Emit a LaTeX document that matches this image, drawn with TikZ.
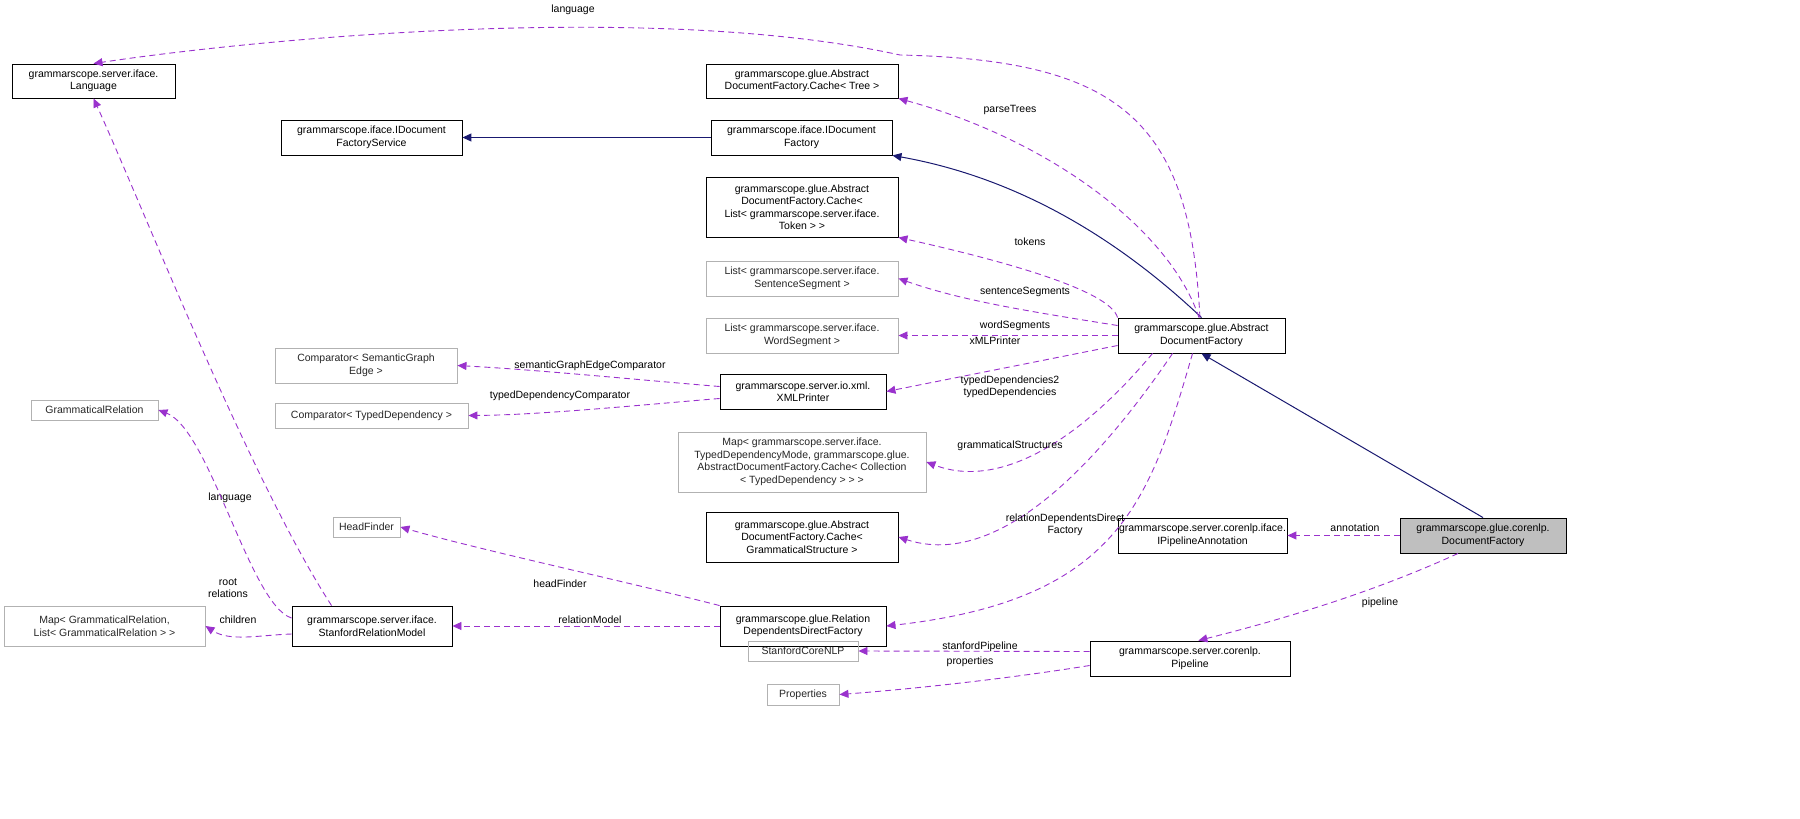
\documentclass[tikz,border=0pt]{standalone}
\usepackage{fontspec}
\setmainfont{Liberation Sans}
\usetikzlibrary{arrows.meta}
\definecolor{dpurple}{HTML}{9A32CD}
\definecolor{dnavy}{HTML}{191970}
\begin{document}
\begin{tikzpicture}[x=1pt,y=-1pt,
  font=\fontsize{10.5}{12.5}\selectfont,
  box/.style={draw=black,line width=0.9pt,align=center,inner sep=1pt},
  gbox/.style={draw=gray!60,line width=0.9pt,align=center,inner sep=1pt,text=black!85},
  use/.style={draw=dpurple,dashed,dash pattern=on 6pt off 4pt,line width=0.9pt,-{Triangle[width=8pt,length=9pt,fill=dpurple]}},
  inh/.style={draw=dnavy,line width=1pt,-{Triangle[width=8pt,length=9pt,fill=dnavy]}},
  lab/.style={align=center,inner sep=1pt}]
\useasboundingbox (0,0) rectangle (1800,819);
\def\bx#1#2#3#4#5#6#7{\node[#1,minimum width=#5pt,minimum height=#6pt] (#2) at (#3,#4) {#7};}
\bx{box}{lang}{93.5}{81}{163}{34}{grammarscope.server.iface.\\Language}
\bx{box}{ifs}{371.5}{137.5}{181}{35}{grammarscope.iface.IDocument\\FactoryService}
\bx{box}{idf}{801.5}{137.5}{181}{35}{grammarscope.iface.IDocument\\Factory}
\bx{box}{ctree}{802}{81}{192}{34}{grammarscope.glue.Abstract\\DocumentFactory.Cache< Tree >}
\bx{box}{ctok}{802}{207}{192}{60}{grammarscope.glue.Abstract\\DocumentFactory.Cache<\\ List< grammarscope.server.iface.\\Token > >}
\bx{gbox}{sseg}{802}{278.5}{192}{35}{List< grammarscope.server.iface.\\SentenceSegment >}
\bx{gbox}{wseg}{802}{335.5}{192}{35}{List< grammarscope.server.iface.\\WordSegment >}
\bx{box}{adf}{1201.5}{335.5}{167}{35}{grammarscope.glue.Abstract\\DocumentFactory}
\bx{gbox}{csge}{366}{365.5}{182}{35}{Comparator< SemanticGraph\\Edge >}
\bx{box}{xml}{803}{391.5}{166}{35}{grammarscope.server.io.xml.\\XMLPrinter}
\bx{gbox}{ctd}{371.5}{415.5}{193}{25}{Comparator< TypedDependency >}
\bx{gbox}{map}{802}{462}{248}{60}{Map< grammarscope.server.iface.\\TypedDependencyMode, grammarscope.glue.\\AbstractDocumentFactory.Cache< Collection\\< TypedDependency > > >}
\bx{box}{cgs}{802}{537}{192}{50}{grammarscope.glue.Abstract\\DocumentFactory.Cache<\\ GrammaticalStructure >}
\bx{box}{ipa}{1202.5}{535.5}{165}{35}{grammarscope.server.corenlp.iface.\\IPipelineAnnotation}
\node[box,fill=gray!50,minimum width=166pt,minimum height=35pt] (cdf) at (1483,535.5) {grammarscope.glue.corenlp.\\DocumentFactory};
\bx{gbox}{hf}{366.5}{527}{67}{20}{HeadFinder}
\bx{gbox}{gr}{94.5}{410}{127}{20}{GrammaticalRelation}
\bx{box}{srm}{372}{626}{160}{40}{grammarscope.server.iface.\\StanfordRelationModel}
\bx{gbox}{mapgr}{104.5}{626}{201}{40}{Map< GrammaticalRelation,\\ List< GrammaticalRelation > >}
\bx{box}{rddf}{803}{626}{166}{40}{grammarscope.glue.Relation\\DependentsDirectFactory}
\bx{gbox}{snlp}{803}{651}{110}{20}{StanfordCoreNLP}
\bx{box}{pipe}{1190}{658.5}{200}{35}{grammarscope.server.corenlp.\\Pipeline}
\bx{gbox}{props}{803}{694.5}{72}{21}{Properties}

% inheritance
\draw[inh] (idf.west) -- (ifs.east);
\draw[inh] (adf.north) .. controls (1130,250) and (1030,180) .. (idf.south east);
\draw[inh] (cdf.north) -- (adf.south);

% usage from ADF
\draw[use] (adf.95) .. controls (1190,120) and (1120,60) .. (900,55) .. controls (650,0) and (250,40) .. (lang.north);
\node[lab] (l1) at (573,10) {language};
\draw[use] (adf.98) .. controls (1170,230) and (1050,140) .. (ctree.south east);
\node[lab] (l2) at (1010,110) {parseTrees};
\draw[use] (adf.north west) .. controls (1110,290) and (1000,260) .. (ctok.south east);
\node[lab] (l3) at (1030,242) {tokens};
\draw[use] (adf.west) ++(0,-10) .. controls (1020,310) and (960,300) .. (sseg.east);
\node[lab] (l4) at (1025,292) {sentenceSegments};
\draw[use] (adf.west) -- (wseg.east);
\node[lab] (l5) at (1015,326) {wordSegments};
\draw[use] (adf.west) ++(0,10) -- (xml.east);
\node[lab] (l6) at (995,341) {xMLPrinter};
\draw[use] (adf.south west) ++(35,0) .. controls (1080,440) and (1000,490) .. (map.east);
\node[lab] (l7) at (1010,387) {typedDependencies2\\typedDependencies};
\draw[use] (adf.south west) ++(55,0) .. controls (1100,460) and (1000,570) .. (cgs.east);
\node[lab] (l8) at (1010,446) {grammaticalStructures};
\draw[use] (adf.south west) ++(75,0) .. controls (1150,500) and (1120,600) .. (rddf.east);
\node[lab] (l9) at (1065,525) {relationDependentsDirect\\Factory};

% XML printer
\draw[use] (xml.west) ++(0,-5) .. controls (640,380) and (540,370) .. (csge.east);
\node[lab] (l10) at (590,366) {semanticGraphEdgeComparator};
\draw[use] (xml.west) ++(0,7) .. controls (640,405) and (540,415) .. (ctd.east);
\node[lab] (l11) at (560,396) {typedDependencyComparator};

% RDDF
\draw[use] (rddf.north west) .. controls (620,580) and (480,550) .. (hf.east);
\node[lab] (l12) at (560,584) {headFinder};
\draw[use] (rddf.west) -- (srm.east);
\node[lab] (l13) at (590,620) {relationModel};

% SRM
\draw[use] (srm.north west) ++(40,0) .. controls (250,480) and (140,200) .. (lang.south);
\node[lab] (l14) at (230,498) {language};
\draw[use] (srm.west) ++(0,-8) .. controls (250,605) and (210,430) .. (gr.east);
\node[lab] (l15) at (228,588) {root\\relations};
\draw[use] (srm.west) ++(0,8) .. controls (260,635) and (230,642) .. (mapgr.east);
\node[lab] (l16) at (238,620) {children};

% corenlp DF
\draw[use] (cdf.west) -- (ipa.east);
\node[lab] (l17) at (1355,528) {annotation};
\draw[use] (cdf.south) ++(-25,0) .. controls (1400,580) and (1320,610) .. (pipe.65);
\node[lab] (l18) at (1380,603) {pipeline};

% Pipeline
\draw[use] (pipe.west) ++(0,-7) -- (snlp.east);
\node[lab] (l19) at (980,647) {stanfordPipeline};
\draw[use] (pipe.west) ++(0,7) .. controls (1000,680) and (900,690) .. (props.east);
\node[lab] (l20) at (970,662) {properties};
\end{tikzpicture}
\end{document}
